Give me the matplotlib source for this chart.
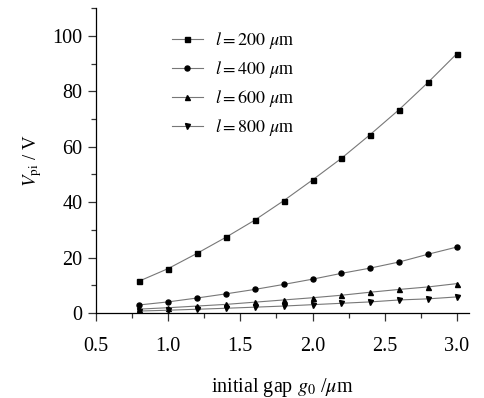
import numpy as np
import matplotlib
matplotlib.use("Agg")
import matplotlib.pyplot as plt
from matplotlib.ticker import MultipleLocator

plt.rcParams['font.family'] = ['Liberation Serif', 'DejaVu Serif']
plt.rcParams['mathtext.fontset'] = 'stix'

# datos
gap = [0.8, 1.0, 1.2, 1.4, 1.6, 1.8, 2.0, 2.2, 2.4, 2.6, 2.8, 3.0]
v_200 = [11.5, 16.0, 21.5, 27.3, 33.5, 40.5, 48.0, 55.8, 64.4, 73.4, 83.2, 93.6]
v_400 = [2.9, 4.0, 5.4, 6.9, 8.5, 10.3, 12.2, 14.3, 16.2, 18.4, 21.2, 23.8]
v_600 = [1.4, 1.9, 2.5, 3.1, 3.9, 4.7, 5.5, 6.4, 7.5, 8.5, 9.4, 10.6]
v_800 = [0.7, 1.0, 1.35, 1.7, 2.1, 2.5, 3.0, 3.5, 4.0, 4.7, 5.1, 5.8]
series = [(v_200, 's', '200'), (v_400, 'o', '400'), (v_600, '^', '600'), (v_800, 'v', '800')]

fig = plt.figure(figsize=(4.84, 3.98), dpi=100)
ax = fig.add_axes([0.198, 0.2136, 0.77, 0.766])

for vals, mk, lab in series:
    ax.plot(gap, vals, color='#777777', lw=0.8, marker=mk, ms=3.6,
            mfc='black', mec='black', label=r'$l=%s$ $\mu$m' % lab)

ax.set_xlim(0.5, 3.08)
ax.set_ylim(0, 110)
ax.xaxis.set_major_locator(MultipleLocator(0.5))
ax.xaxis.set_minor_locator(MultipleLocator(0.25))
ax.yaxis.set_major_locator(MultipleLocator(20))
ax.yaxis.set_minor_locator(MultipleLocator(10))
ax.set_xticks([0.5, 1.0, 1.5, 2.0, 2.5, 3.0])
ax.set_xticklabels(['0.5', '1.0', '1.5', '2.0', '2.5', '3.0'])
ax.tick_params(which='both', direction='out', labelsize=14.5, color='#333333')
ax.tick_params(which='major', length=5.5, width=0.9)
ax.tick_params(which='minor', length=3.5, width=0.9)
ax.tick_params(axis='x', pad=12)
ax.tick_params(axis='y', pad=4)
for s in ['top', 'right']:
    ax.spines[s].set_visible(False)
for s in ['left', 'bottom']:
    ax.spines[s].set_linewidth(0.9)

ax.set_xlabel(r'initial gap $g_0$ /$\mu$m', fontsize=14.5, labelpad=14)
ax.set_ylabel(r'$V_{\rm pi}$ / V', fontsize=13.5, labelpad=6)

ax.legend(loc='upper left', bbox_to_anchor=(0.17, 0.97), frameon=False, fontsize=13,
          handlelength=1.7, handletextpad=0.7, labelspacing=0.45, borderpad=0.2)

fig.savefig('out.png', dpi=100)
